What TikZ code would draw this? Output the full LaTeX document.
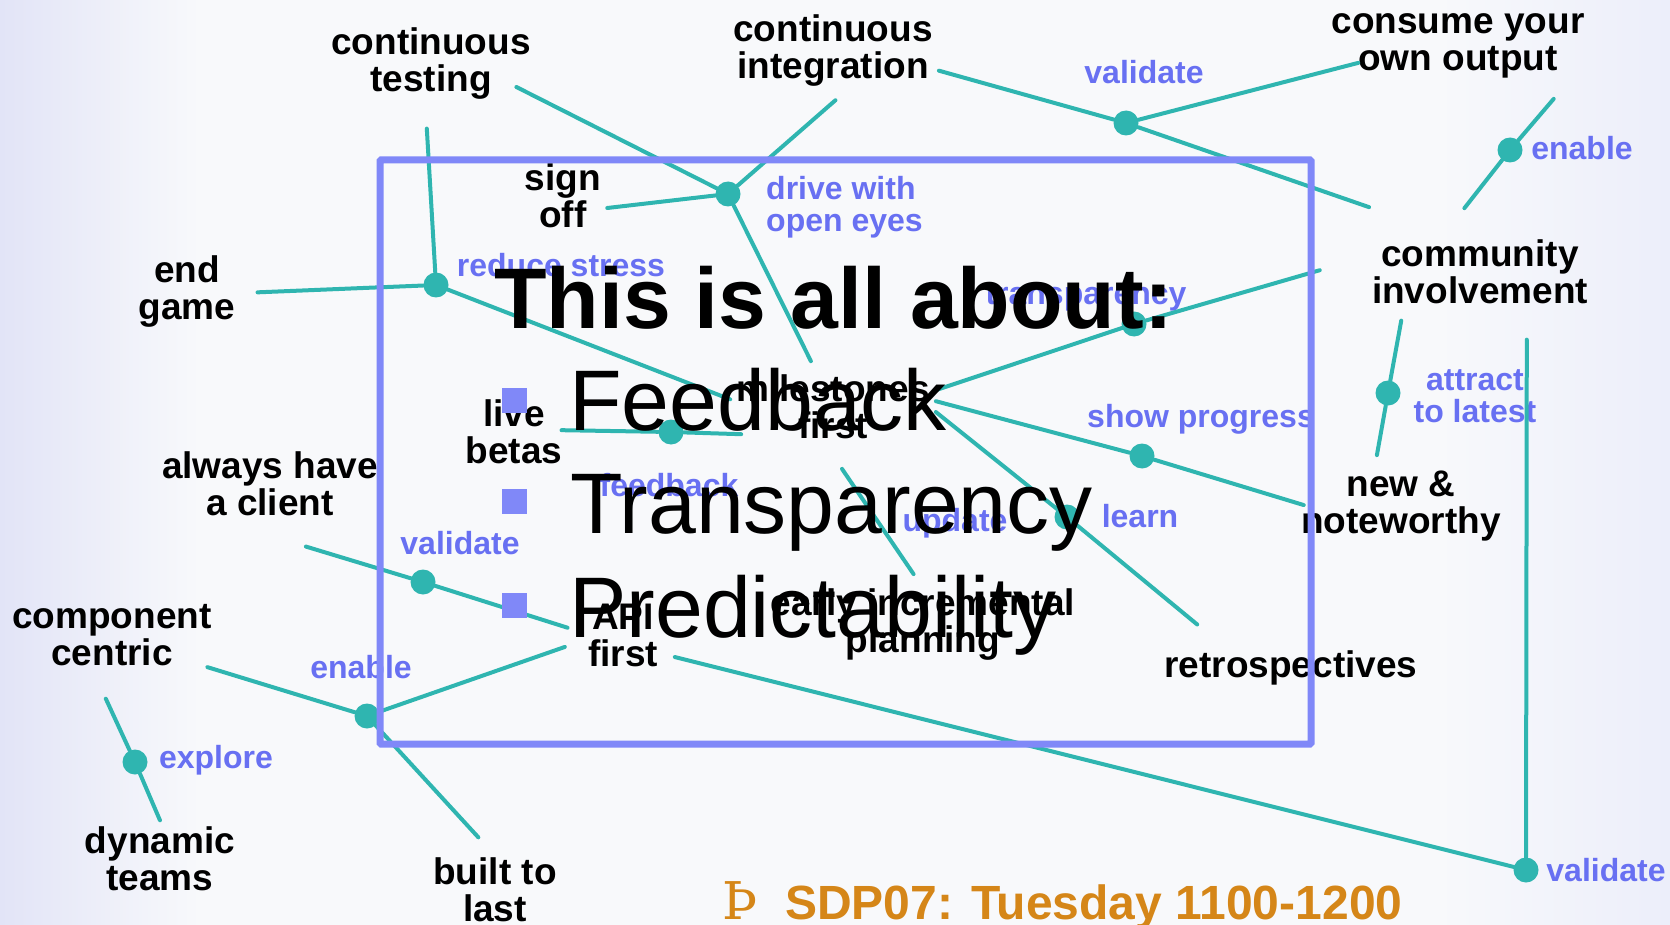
\documentclass[tikz,border=0pt]{standalone}
\usepackage{fontspec}
\setmainfont{Liberation Sans}
\newfontfamily\thornfont{DejaVu Serif}
\definecolor{mapteal}{RGB}{47,181,176}
\definecolor{relblue}{RGB}{104,112,242}
\definecolor{boxblue}{RGB}{128,136,248}
\definecolor{footorange}{RGB}{213,134,24}
\definecolor{bgedge}{RGB}{226,228,247}
\definecolor{bgmid}{RGB}{248,249,251}
\definecolor{bgright}{RGB}{236,238,250}
\pgfdeclarehorizontalshading{slidebg}{100bp}{color(0bp)=(bgedge); color(25bp)=(bgedge); color(31bp)=(bgmid); color(68bp)=(bgmid); color(75bp)=(bgright); color(100bp)=(bgright)}

\begin{document}
\begin{tikzpicture}[x=1pt,y=-1pt,
	topic/.style={align=center,inner sep=6pt,font=\fontsize{37}{37}\selectfont\bfseries\strut},
	rel/.style={text=relblue,align=center,inner sep=0pt,font=\fontsize{32}{32}\selectfont\bfseries\strut},
	junction/.style={circle,fill=mapteal,inner sep=0pt,minimum size=25pt},
	conn/.style={draw=mapteal,line width=4pt,line cap=round},
	sqbullet/.style={rectangle,fill=boxblue,inner sep=0pt,minimum size=25pt},
	bigline/.style={anchor=base west,inner sep=0pt,font=\fontsize{86}{86}\selectfont}]
			\useasboundingbox (0,0) rectangle (1670,925);
			\shade[shading=slidebg] (0,0) rectangle (1670,925);
			\node[topic] (ct)at(431,65) {continuous\\testing};
			\node[topic] (ci)at(833,52) {continuous\\integration};
			\node[topic] (cyo)at(1458,48) {consume your\\own output};
			\node[topic] (so)at(563,201) {sign\\off};
			\node[topic] (eg)at(187,293) {end\\game};
			\node[topic] (cmi)at(1480,277) {community\\involvement};
			\node[topic] (lb)at(514,437) {live\\betas};
			\node[topic] (mf)at(833,412) {milestones\\first};
			\node[topic] (ahc)at(270,489) {always have\\a client};
			\node[topic] (cc)at(112,640) {component\\centric};
			\node[topic] (api)at(623,641) {API\\first};
			\node[topic] (eip)at(923,626) {early incremental\\planning};
			\node[topic] (rs)at(1291,670) {retrospectives};
			\node[topic] (nn)at(1401,508) {new \&\\noteworthy};
			\node[topic] (dt)at(160,864) {dynamic\\teams};
			\node[topic] (btl)at(495,895) {built to\\last};
			\node[junction] (d1)at(1126,123) {};
			\node[junction] (d2)at(1510,150) {};
			\node[junction] (d3)at(728,194) {};
			\node[junction] (d4)at(436,285) {};
			\node[junction] (d5)at(1134,324) {};
			\node[junction] (d6)at(1388,393) {};
			\node[junction] (d7)at(1142,456) {};
			\node[junction] (d8)at(671,432) {};
			\node[junction] (d10)at(1067,517) {};
			\node[junction] (d11)at(423,582) {};
			\node[junction] (d12)at(367,716) {};
			\node[junction] (d13)at(135,762) {};
			\node[junction] (d14)at(1526,870) {};
			\node[rel] (r1)at(1144,77) {validate};
			\node[rel] (r2)at(1582,153) {enable};
			\node[rel,anchor=west,align=left] (r3)at(766,209) {drive with\\open eyes};
			\node[rel] (r4)at(561,270) {reduce stress};
			\node[rel] (r5)at(1086,298) {transparency};
			\node[rel] (r6)at(1475,401) {attract\\to latest};
			\node[rel] (r7)at(1201,421) {show progress};
			\node[rel] (r8)at(669,490) {feedback};
			\node[rel] (r9)at(955,525) {update};
			\node[rel] (r10)at(1140,521) {learn};
			\node[rel] (r11)at(460,548) {validate};
			\node[rel] (r12)at(361,672) {enable};
			\node[rel] (r13)at(216,762) {explore};
			\node[rel] (r14)at(1606,875) {validate};
			\draw[conn,shorten <=-23pt] (ct.-17) -- (d3);
			\draw[conn,shorten <=7pt] (ci.-80) -- (d3);
			\draw[conn] (so.-9) -- (d3);
			\draw[conn,shorten >=8pt] (d3) -- (mf.113);
			\draw[conn,shorten <=20pt] (ct.-97) -- (d4);
			\draw[conn,shorten <=16pt] (eg.east) -- (d4);
			\draw[conn] (d4) -- (mf.173);
			\draw[conn] (ci.-10) -- (d1);
			\draw[conn,shorten <=-34pt] (cyo.190) -- (d1);
			\draw[conn,shorten >=80pt] (d1) -- (cmi.129);
			\draw[conn,shorten <=14pt] (cyo.-21) -- (d2);
			\draw[conn,shorten >=32pt] (d2) -- (cmi.129);
			\draw[conn] (mf.12) -- (d5);
			\draw[conn,shorten >=48pt] (d5) -- (cmi.170);
			\draw[conn] (mf.6) -- (d7);
			\draw[conn,shorten >=-9pt] (d7) -- (nn.177);
			\draw[conn] (mf.east) -- (d10);
			\draw[conn,shorten >=32pt] (d10) -- (rs.160);
			\draw[conn] (cmi.-151) -- (d6);
			\draw[conn,shorten >=10pt] (d6) -- (nn.121);
			\draw[conn,shorten <=19pt] (cmi.-43) -- (d14);
			\draw[conn,shorten <=11pt] (api.-18) -- (d14);
			\draw[conn,shorten <=-7pt] (lb.7) -- (d8);
			\draw[conn,shorten >=-11pt] (d8) -- (mf.192);
			\draw[conn,shorten <=10pt,shorten >=16pt] (eip.95) -- (mf.south);
			\draw[conn,shorten <=48pt] (ahc.-103) -- (d11);
			\draw[conn,shorten >=15pt] (d11) -- (api.168);
			\draw[conn,shorten <=-11pt] (cc.-16) -- (d12);
			\draw[conn,shorten >=18pt] (d12) -- (api.west);
			\draw[conn,shorten >=19pt] (d12) -- (btl.95);
			\draw[conn,shorten <=18pt] (cc.-108) -- (d13);
			\draw[conn] (d13) -- (dt.north);
			\draw[line width=7pt,draw=boxblue,rounded corners=1pt] (380,160) rectangle (1311,744);
			\node[bigline,font=\fontsize{86}{86}\selectfont\bfseries] (title)at(494,328) {This is all about:};
			\node[sqbullet] (b1)at(514,400) {};
			\node[sqbullet] (b2)at(514,501) {};
			\node[sqbullet] (b3)at(514,605) {};
			\node[bigline] (t1)at(569,430) {Feedback};
			\node[bigline] (t2)at(570,533) {Transparency};
			\node[bigline] (t3)at(569,637) {Predictability};
			\node[anchor=base west,inner sep=0pt,text=footorange,font=\thornfont\fontsize{52}{52}\selectfont] (thorn)at(722,919) {Þ};
			\node[anchor=base west,inner sep=0pt,text=footorange,font=\fontsize{48}{48}\selectfont\bfseries] (sdp)at(785,919) {SDP07: Tuesday 1100-1200};
		\end{tikzpicture}
\end{document}
